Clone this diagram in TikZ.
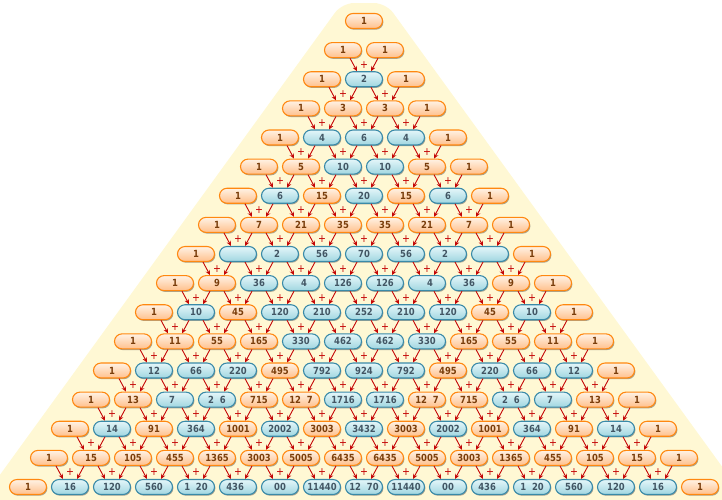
\documentclass[tikz,border=0pt]{standalone}
\usepackage{fontspec}
\setmainfont{DejaVu Sans}[FakeStretch=0.86]
\usetikzlibrary{arrows.meta,shadows}

\definecolor{bgyellow}{RGB}{255,248,212}
\definecolor{oddtop}{RGB}{255,242,228}
\definecolor{oddbot}{RGB}{255,192,140}
\definecolor{oddline}{RGB}{255,136,16}
\definecolor{oddtext}{RGB}{122,62,12}
\definecolor{eventop}{RGB}{228,246,249}
\definecolor{evenbot}{RGB}{160,214,224}
\definecolor{evenline}{RGB}{58,138,168}
\definecolor{eventext}{RGB}{66,86,100}
\definecolor{arrowred}{RGB}{196,6,6}

\newcommand{\lostdigit}{\phantom{8}}

\begin{document}
\begin{tikzpicture}
  [x=1pt, y=-1pt,
   num/.style={rectangle, rounded corners=7.5pt, minimum width=37pt, minimum height=15pt,
     inner sep=0pt, line width=1.1pt, font=\bfseries\fontsize{9.8}{10}\selectfont,
     drop shadow={shadow xshift=.9pt, shadow yshift=-1.2pt, opacity=.45, fill=black!75}},
   numo/.style={num, draw=oddline, top color=oddtop, bottom color=oddbot, text=oddtext},
   nume/.style={num, draw=evenline, top color=eventop, bottom color=evenbot, text=eventext},
   addarrow/.style={draw=arrowred, line width=.9pt, -{Stealth[length=5pt,width=4.5pt]}},
   plussign/.style={text=arrowred, inner sep=0pt, font=\fontsize{11}{11}\selectfont}]

  \useasboundingbox (0,0) rectangle (722,499);
  \clip (0,0) rectangle (722,499);
  \fill[bgyellow, rounded corners=12pt] (-27,512) -- (342,3) -- (386,3) -- (755,512) -- cycle;

  \foreach \rowlist [count=\i from 0] in {
    {1/o},
    {1/o,1/o},
    {1/o,2/e,1/o},
    {1/o,3/o,3/o,1/o},
    {1/o,4/e,6/e,4/e,1/o},
    {1/o,5/o,10/e,10/e,5/o,1/o},
    {1/o,6/e,15/o,20/e,15/o,6/e,1/o},
    {1/o,7/o,21/o,35/o,35/o,21/o,7/o,1/o},
    {1/o,{\lostdigit}/e,{2\lostdigit}/e,56/e,70/e,56/e,{2\lostdigit}/e,{\lostdigit}/e,1/o},
    {1/o,9/o,36/e,{\lostdigit4}/e,126/e,126/e,{\lostdigit4}/e,36/e,9/o,1/o},
    {1/o,10/e,45/o,120/e,210/e,252/e,210/e,120/e,45/o,10/e,1/o},
    {1/o,11/o,55/o,165/o,330/e,462/e,462/e,330/e,165/o,55/o,11/o,1/o},
    {1/o,12/e,66/e,220/e,495/o,792/e,924/e,792/e,495/o,220/e,66/e,12/e,1/o},
    {1/o,13/o,{7\lostdigit}/e,{2\lostdigit6}/e,715/o,{12\lostdigit7}/o,1716/e,1716/e,{12\lostdigit7}/o,715/o,{2\lostdigit6}/e,{7\lostdigit}/e,13/o,1/o},
    {1/o,14/e,91/o,364/e,1001/o,2002/e,3003/o,3432/e,3003/o,2002/e,1001/o,364/e,91/o,14/e,1/o},
    {1/o,15/o,105/o,455/o,1365/o,3003/o,5005/o,6435/o,6435/o,5005/o,3003/o,1365/o,455/o,105/o,15/o,1/o},
    {1/o,16/e,120/e,560/e,{1\lostdigit20}/e,{436\lostdigit}/e,{\lostdigit00\lostdigit}/e,11440/e,{12\lostdigit70}/e,11440/e,{\lostdigit00\lostdigit}/e,{436\lostdigit}/e,{1\lostdigit20}/e,560/e,120/e,16/e,1/o}}
    \foreach \t/\c [count=\j from 0] in \rowlist
      \node[num\c] (n-\i-\j) at ({364+(\j-\i/2)*42}, {21+\i*29.125}) {\t};

  \foreach \i in {2,...,16} {
    \pgfmathtruncatemacro\last{\i-1}
    \foreach \j in {1,...,\last} {
      \pgfmathtruncatemacro\pi{\i-1}
      \pgfmathtruncatemacro\pj{\j-1}
      \draw[addarrow] ([xshift=7pt]n-\pi-\pj.south) -- ([xshift=-7pt]n-\i-\j.north);
      \draw[addarrow] ([xshift=-7pt]n-\pi-\j.south) -- ([xshift=7pt]n-\i-\j.north);
      \node[plussign] (p-\i-\j) at ([yshift=14.5pt]n-\i-\j) {+};
    }
  }
\end{tikzpicture}
\end{document}
